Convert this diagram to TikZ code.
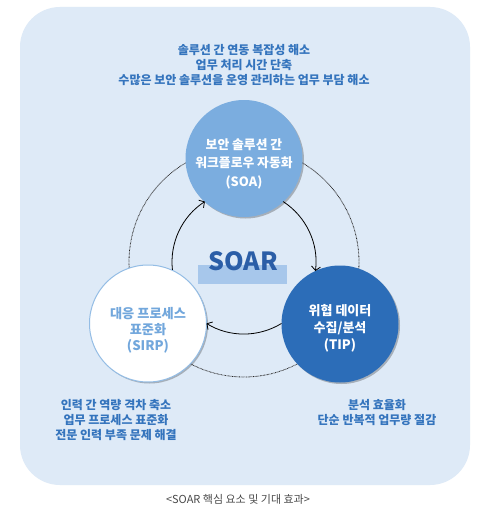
\documentclass[tikz,border=0pt]{standalone}
\usepackage{fontspec}
\setmainfont{Noto Sans CJK KR}
\usetikzlibrary{arrows.meta,shadows,calc}
\definecolor{bgblue}{HTML}{DEEAF7}
\definecolor{efftext}{HTML}{3474BD}
\definecolor{soacol}{HTML}{7BADDF}
\definecolor{tipcol}{HTML}{2C6DB8}
\definecolor{sirptext}{HTML}{72A7DC}
\definecolor{sirpborder}{HTML}{94BDE5}
\definecolor{soartext}{HTML}{2B5EA7}
\definecolor{soarbar}{HTML}{A7C7EB}
\definecolor{captext}{HTML}{4A4A4A}
\tikzset{
  effect/.style={text=efftext, align=center, font=\fontsize{12}{15.2}\selectfont\bfseries},
  bubble/.style={circle, minimum size=117pt, inner sep=0pt,
    drop shadow={shadow xshift=1.5pt, shadow yshift=-1.5pt, opacity=0.25, fill=black}},
  bubbletext/.style={align=center, inner sep=0pt},
  flowarc/.style={line width=0.8pt, black, -{Straight Barb[length=4pt,width=9pt]}},
  outerring/.style={line width=0.8pt, black!85, dash pattern=on 0.7pt off 0.7pt},
}
\begin{document}
\begin{tikzpicture}[x=1pt,y=-1pt]
\useasboundingbox (0,0) rectangle (485,511);
\fill[white] (0,0) rectangle (485,511);
\fill[bgblue, rounded corners=40pt] (20,7) rectangle (470,485);

% effect texts
\node[effect] (topeff) at (244,65) {솔루션 간 연동 복잡성 해소\\업무 처리 시간 단축\\수많은 보안 솔루션을 운영 관리하는 업무 부담 해소};
\node[effect] (lefteff) at (116,420) {인력 간 역량 격차 축소\\업무 프로세스 표준화\\전문 인력 부족 문제 해결};
\node[effect] (righteff) at (377,412.5) {분석 효율화\\단순 반복적 업무량 절감};

% centre
\coordinate (O) at (244,262);
\draw[outerring] (O) circle[radius=115];

% SOAR label
\fill[soarbar] (198,265) rectangle (287,284);
\node[text=soartext, font=\fontsize{25}{30}\selectfont\bfseries, inner sep=0pt] (soar) at (243,261) {SOAR};

% circles
\node[bubble, fill=soacol] (soa) at (244,158.5) {};
\node[bubble, fill=white, draw=sirpborder, line width=1pt] (sirp) at (148,323.5) {};
\node[bubble, fill=tipcol] (tip) at (340,324) {};

\node[bubbletext, text=white, font=\fontsize{12.8}{18.5}\selectfont\bfseries] (soalbl) at (244,163.5) {보안 솔루션 간\\워크플로우 자동화\\(SOA)};
\node[bubbletext, text=sirptext, font=\fontsize{13.2}{16.2}\selectfont\bfseries] (sirplbl) at (148,330.5) {대응 프로세스\\표준화\\(SIRP)};
\node[bubbletext, text=white, font=\fontsize{13}{17}\selectfont\bfseries] (tiplbl) at (340,328.5) {위협 데이터\\수집/분석\\(TIP)};

% inner flow arcs (angles clockwise on screen)
\draw[flowarc] ($(O)+(173.8:72)$) arc[start angle=173.8, end angle=237.1, radius=72];
\draw[flowarc] ($(O)+(302.9:72)$) arc[start angle=302.9, end angle=367.2, radius=72];
\draw[flowarc] ($(O)+(58.6:72)$) arc[start angle=58.6, end angle=121.4, radius=72];

% caption
\node[text=captext, font=\fontsize{11}{13}\selectfont] (cap) at (238,499) {<SOAR 핵심 요소 및 기대 효과>};
\end{tikzpicture}
\end{document}
